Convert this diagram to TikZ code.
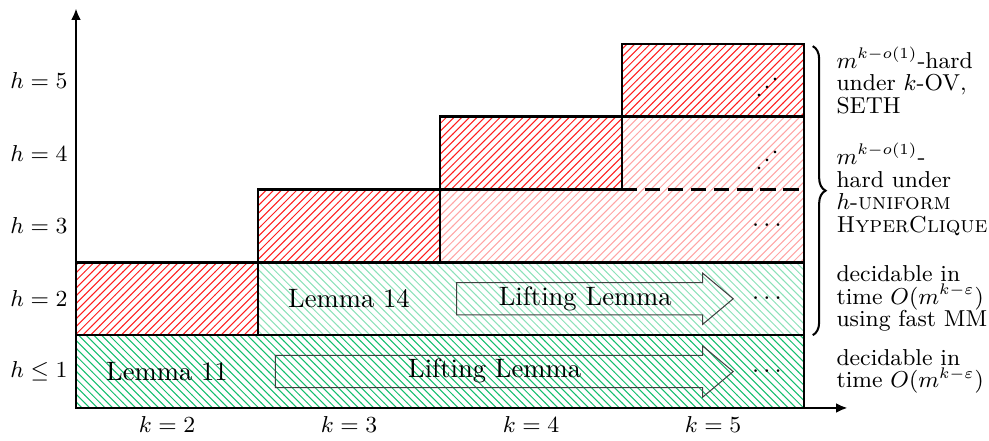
\documentclass[tikz,border=0pt]{standalone}
\usepackage{amsmath,amssymb}
\usepackage{xcolor}
\usepackage{tikz}
\usetikzlibrary{arrows.meta,patterns,shapes.arrows,decorations.pathreplacing}
\definecolor{hardline}{RGB}{255,30,30}
\definecolor{hardlight}{RGB}{255,165,165}
\definecolor{easyline}{RGB}{20,190,110}
\definecolor{easylight}{RGB}{140,225,185}
\newcommand{\sidefont}{\fontsize{9}{8.8}\selectfont}
\newcommand{\lemmafont}{\fontsize{10.4}{12.5}\selectfont}
\tikzset{
  hardbox/.style={pattern=north east lines, pattern color=hardline},
  hardlightbox/.style={pattern=north east lines, pattern color=hardlight},
  easybox/.style={pattern=north west lines, pattern color=easyline},
  easylightbox/.style={pattern=north west lines, pattern color=easylight},
  border/.style={line width=1pt},
  axis/.style={line width=1pt, -{Latex[length=4.5pt,width=3.8pt]}},
  liftarrow/.style={single arrow, draw=black!75, thin, anchor=tail,
    text height=7pt, text depth=2pt, inner xsep=0pt, inner ysep=1.6pt,
    single arrow head extend=0.13cm, single arrow tip angle=80,
    font=\lemmafont},
  ticklabel/.style={font=\small},
  lemmalabel/.style={font=\lemmafont},
  sidenote/.style={anchor=west, align=left, font=\sidefont, inner sep=0pt},
  dotslabel/.style={inner sep=0pt}
}

\begin{document}
\begin{tikzpicture}[x=1cm,y=1cm]
  \useasboundingbox (-1.044,-0.453) rectangle (12.541,5.604);

  % hatched regions
  \fill[easybox] (0,0) rectangle (10,1);
  \fill[hardbox] (0,1) rectangle (2.5,2);
  \fill[easylightbox] (2.5,1) rectangle (10,2);
  \fill[hardbox] (2.5,2) rectangle (5,3);
  \fill[hardlightbox] (5,2) rectangle (10,3);
  \fill[hardbox] (5,3) rectangle (7.5,4);
  \fill[hardlightbox] (7.5,3) rectangle (10,4);
  \fill[hardbox] (7.5,4) rectangle (10,5);

  \node[liftarrow, minimum height=6.29cm] (liftlow) at (2.73,0.5) {Lifting Lemma};
  \node[liftarrow, minimum height=3.80cm] (lifthigh) at (5.22,1.5) {Lifting Lemma};

  % borders
  \draw[border] (0,0) rectangle (10,1);
  \draw[border] (0,1) rectangle (2.5,2);
  \draw[border] (2.5,1) rectangle (10,2);
  \draw[border] (2.5,2) rectangle (5,3);
  \draw[border] (5,3) rectangle (7.5,4);
  \draw[border] (7.5,4) rectangle (10,5);
  \draw[border] (10,2) -- (10,4);
  \draw[border, dash pattern=on 6pt off 3pt] (7.5,3) -- (10,3);

  \coordinate (origin) at (0,0);
  \coordinate (ytop) at (0,5.49);
  \coordinate (xend) at (10.6,0);
  \draw[axis] (origin) -- (ytop);
  \draw[axis] (origin) -- (xend);

  \foreach \k [count=\i] in {2,...,5}
    \node[ticklabel] (k\k) at ({2.5*\i-1.25},-0.23) {$k=\k$};
  \node[ticklabel] (h1) at (-0.51,0.5) {$h\le 1$};
  \foreach \h in {2,...,5}
    \node[ticklabel] (h\h) at (-0.51,\h-0.5) {$h=\h$};

  \node[lemmalabel] (lemmaeleven) at (1.25,0.5) {Lemma 11};
  \node[lemmalabel] (lemmafourteen) at (3.75,1.5) {Lemma 14};

  \node[dotslabel] (dotsone) at (9.52,0.5) {$\cdots$};
  \node[dotslabel] (dotstwo) at (9.52,1.5) {$\cdots$};
  \node[dotslabel] (dotsthree) at (9.52,2.5) {$\cdots$};
  \node[dotslabel, rotate=45] (dotsfour) at (9.53,3.42) {$\cdots$};
  \node[dotslabel, rotate=45] (dotsfive) at (9.53,4.41) {$\cdots$};

  \coordinate (bracetop) at (10.12,4.97);
  \coordinate (bracebot) at (10.12,1.0);
  \draw[thick, decorate, decoration={brace, amplitude=5pt}] (bracetop) -- (bracebot);

  \node[sidenote] (sethnote) at (10.44,4.5)
    {$m^{k-o(1)}$-hard\\under $k$-OV,\\SETH};
  \node[sidenote] (cliquenote) at (10.44,3.0)
    {$m^{k-o(1)}$-\\hard under\\$h$-\textsc{uniform}\\\textsc{HyperClique}};
  \node[sidenote] (mmnote) at (10.44,1.5)
    {decidable in\\time $O(m^{k-\varepsilon})$\\using fast MM};
  \node[sidenote] (easynote) at (10.44,0.5)
    {decidable in\\time $O(m^{k-\varepsilon})$};
\end{tikzpicture}
\end{document}
